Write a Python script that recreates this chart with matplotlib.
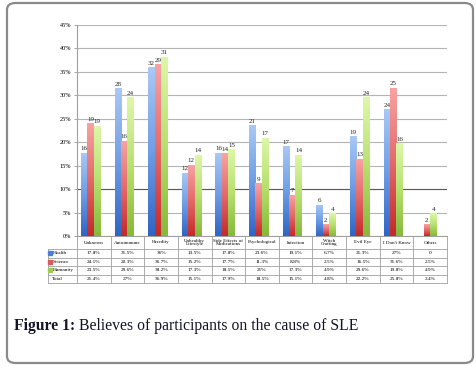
import matplotlib
matplotlib.use('Agg')
import matplotlib.pyplot as plt
import numpy as np
from matplotlib.colors import LinearSegmentedColormap
from matplotlib.patches import FancyBboxPatch
from matplotlib.transforms import blended_transform_factory

plt.rcParams['font.family'] = ['Liberation Serif', 'DejaVu Serif']

# causes of SLE as listed in the table header
categories = ['Unknown', 'Autoimmune', 'Heredity', 'Unhealthy\nLifestyle',
              'Side Effects of\nMedications', 'Psychological', 'Infection',
              'Witch\nCrafting', 'Evil Eye', "I Don't Know", 'Others']
groups = ['Health', 'Science', 'Humanity']

# percentages (bar heights and table rows)
health = [17.8, 31.5, 36, 13.5, 17.8, 23.6, 19.1, 6.7, 21.3, 27, 0]
science = [24.1, 20.3, 36.7, 15.2, 17.7, 11.3, 8.8, 2.5, 16.5, 31.6, 2.5]
humanity = [23.5, 29.6, 38.2, 17.3, 18.5, 21, 17.3, 4.9, 29.6, 19.8, 4.9]
total = [21.4, 27, 36.9, 15.1, 17.9, 18.5, 15.1, 4.8, 22.2, 25.8, 2.4]

# counts written above the bars
health_n = [16, 28, 32, 12, 16, 21, 17, 6, 19, 24, 0]
science_n = [19, 16, 29, 12, 14, 9, 7, 2, 13, 25, 2]
humanity_n = [19, 24, 31, 14, 15, 17, 14, 4, 24, 16, 4]

yticks = [0, 5, 10, 15, 20, 25, 30, 35, 40, 45]

W, H = 477, 371
def fy(py):
    return 1 - py / H

fig = plt.figure(figsize=(W / 100, H / 100), dpi=100)

# rounded frame around figure + caption
box = FancyBboxPatch((7 / W, fy(363)), 466 / W, 360 / H,
                     boxstyle='round,pad=0,rounding_size=0.018',
                     transform=fig.transFigure, fc='white', ec='#8a8a8a', lw=1.6,
                     zorder=-5)
fig.patches.append(box)

ax = fig.add_axes([77 / W, fy(236), 370 / W, 211 / H])
ax.set_facecolor('none')

x = np.arange(len(categories))
bw = 0.19
shift = -0.1
series = [health, science, humanity]
counts = [health_n, science_n, humanity_n]
cmaps = [LinearSegmentedColormap.from_list('b', ['#2f65c4', '#6f9de6', '#a9c8f4']),
         LinearSegmentedColormap.from_list('r', ['#c42a2a', '#e46a6a', '#f7a3a3']),
         LinearSegmentedColormap.from_list('g', ['#86b93a', '#b8e070', '#ddf7a8'])]

grad = np.linspace(0, 1, 64).reshape(-1, 1)
for k in range(3):
    pos = x + shift + (k - 1) * bw
    bars = ax.bar(pos, series[k], bw, color='none', edgecolor='none', zorder=3)
    for b, n in zip(bars, counts[k]):
        h = b.get_height()
        if h > 0:
            im = ax.imshow(grad, extent=[b.get_x(), b.get_x() + bw, 0, h],
                           origin='lower', cmap=cmaps[k], aspect='auto', zorder=3)
            im.set_clip_path(b)
        if n > 0:
            ax.text(b.get_x() + bw / 2, h + 0.3, str(n), ha='center', va='bottom',
                    fontsize=5, color='#222222', zorder=4)

ax.set_xlim(-0.5, len(categories) - 0.5)
ax.set_ylim(0, 45)
ax.set_aspect('auto')
ax.set_yticks(yticks)
ax.set_yticklabels([f'{t}%' for t in yticks], fontsize=4.5)
ax.set_xticks([])
ax.tick_params(axis='y', length=2, width=0.6, color='#999999', pad=2)
ax.yaxis.grid(True, color='#b4b4b4', lw=0.8)
ax.set_axisbelow(True)
ax.axhline(10, color='#5a5a5a', lw=0.8, zorder=1)
for s in ['top', 'right']:
    ax.spines[s].set_visible(False)
ax.spines['left'].set_color('#a0a0a0')
ax.spines['left'].set_linewidth(0.8)
ax.spines['bottom'].set_color('#a0a0a0')
ax.spines['bottom'].set_linewidth(0.8)

# data table underneath
tr = blended_transform_factory(ax.transData, fig.transFigure)
lc = '#a0a0a0'
x_left = -0.5 - 29 / (370 / len(categories))
x_right = len(categories) - 0.5
rows_y = [249, 257.5, 266, 274.5, 283]
for py in rows_y:
    ax.plot([x_left, x_right], [fy(py), fy(py)], color=lc, lw=0.6, transform=tr, clip_on=False)
for i in range(len(categories) + 1):
    ax.plot([i - 0.5, i - 0.5], [fy(236), fy(283)], color=lc, lw=0.6, transform=tr, clip_on=False)
ax.plot([x_left, x_left], [fy(249), fy(283)], color=lc, lw=0.6, transform=tr, clip_on=False)

for i, c in enumerate(categories):
    ax.text(i, fy(242.5), c, ha='center', va='center', fontsize=3.6,
            linespacing=0.95, transform=tr)

def fmt(v):
    return '0' if v == 0 else f'{v:g}%'

row_vals = [health, science, humanity, total]
row_names = groups + ['Total']
key_cols = ['#4a7fd6', '#e05858', '#9ccc50', None]
for r in range(4):
    yc = fy((rows_y[r] + rows_y[r + 1]) / 2)
    for i, v in enumerate(row_vals[r]):
        ax.text(i, yc, fmt(v), ha='center', va='center', fontsize=3.8, transform=tr)
    if key_cols[r]:
        ax.plot([x_left + 0.07], [yc], marker='s', ms=2.2, color=key_cols[r],
                transform=tr, clip_on=False)
        ax.text(x_left + 0.15, yc, row_names[r], ha='left', va='center',
                fontsize=3.8, transform=tr)
    else:
        ax.text(x_left + 0.12, yc, row_names[r], ha='left', va='center',
                fontsize=3.8, transform=tr)

# caption
t1 = fig.text(14 / W, fy(330), 'Figure 1:', fontsize=11.3, fontweight='bold',
              color='#141428', va='baseline')
ax.annotate(' Believes of participants on the cause of SLE', xy=(1, 0), xycoords=t1,
            fontsize=11.3, color='#141428', va='bottom', ha='left',
            annotation_clip=False)

fig.savefig('out.png', dpi=100)
